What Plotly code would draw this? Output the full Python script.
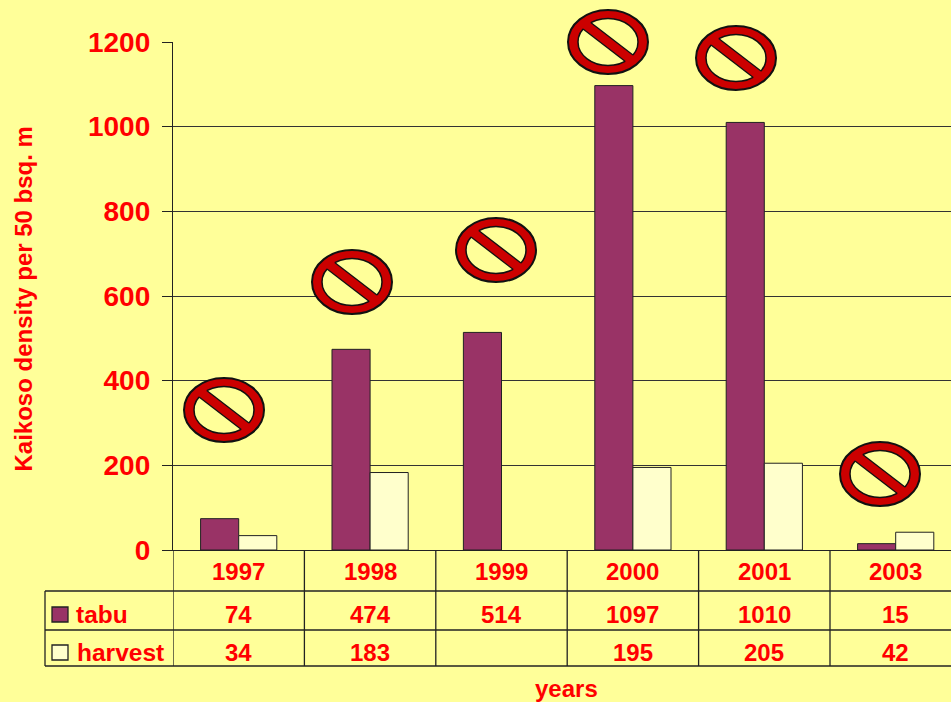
import math
import plotly.graph_objects as go

W, H = 951, 702
BG = "#FFFF99"
RED = "#FF0000"
FONT = "Liberation Sans, Arial, sans-serif"

years = ["1997", "1998", "1999", "2000", "2001", "2003"]
tabu = [74, 474, 514, 1097, 1010, 15]
harvest = [34, 183, None, 195, 205, 42]
y_ticks = [0, 200, 400, 600, 800, 1000, 1200]
series_names = ["tabu", "harvest"]
series_colors = ["#993366", "#FFFFCC"]
sign_centers_px = [(224, 410), (352, 282), (496, 250), (608, 42), (736, 58), (880, 474)]

positions = list(range(len(years)))


def px(x):
    return x / W


def py(y):
    return 1 - y / H


def paper_line(x0, y0, x1, y1, color="#222222", width=1.3):
    return dict(type="line", xref="paper", yref="paper", x0=px(x0), y0=py(y0), x1=px(x1), y1=py(y1),
                line=dict(color=color, width=width))


def ellipse(cx, cy, rx, ry, fill, width):
    return dict(type="circle", xref="paper", yref="paper", x0=px(cx - rx), x1=px(cx + rx),
                y0=py(cy + ry), y1=py(cy - ry), fillcolor=fill, line=dict(color="#111111", width=width))


def chord(ox, oy, d, a, b):
    """Both crossings of the line (ox,oy)+t*d with the ellipse of radii a, b."""
    A = (d[0] / a) ** 2 + (d[1] / b) ** 2
    B = 2 * (ox * d[0] / a ** 2 + oy * d[1] / b ** 2)
    C = (ox / a) ** 2 + (oy / b) ** 2 - 1
    r = math.sqrt(B * B - 4 * A * C)
    return (-B - r) / (2 * A), (-B + r) / (2 * A)


def sign(cx, cy):
    ia, ib = 30, 23.5
    out = [ellipse(cx, cy, 40, 32, "#CC0000", 2), ellipse(cx, cy, ia, ib, BG, 1.5)]
    d = (22, 17)
    nx, ny = 3.1, -3.8  # half thickness of the slash
    pts = [(nx - 1.15 * d[0], ny - 1.15 * d[1]), (nx + 1.15 * d[0], ny + 1.15 * d[1]),
           (-nx + 1.15 * d[0], -ny + 1.15 * d[1]), (-nx - 1.15 * d[0], -ny - 1.15 * d[1])]
    path = "M " + " L ".join(f"{px(cx + p[0])} {py(cy + p[1])}" for p in pts) + " Z"
    out.append(dict(type="path", xref="paper", yref="paper", path=path, fillcolor="#CC0000", line=dict(width=0)))
    for sgn in (1, -1):
        ox, oy = sgn * nx, sgn * ny
        t0, t1 = chord(ox, oy, d, ia, ib)
        out.append(paper_line(cx + ox + t0 * d[0], cy + oy + t0 * d[1], cx + ox + t1 * d[0], cy + oy + t1 * d[1],
                              color="#111111", width=1.3))
    return out


fig = go.Figure()
for name, vals, col in zip(series_names, [tabu, harvest], series_colors):
    fig.add_bar(x=positions, y=vals, name=name, marker=dict(color=col, line=dict(color="#222222", width=1)))

shapes = []
for y in (591, 630, 666):
    shapes.append(paper_line(45, y, W, y))
shapes.append(paper_line(45, 591, 45, 666))
for i in positions:
    shapes.append(dict(type="line", xref="x", yref="paper", x0=i - 0.5, x1=i - 0.5, y0=py(550), y1=py(666),
                       line=dict(color="#222222", width=1.3)))
for col, (t, b) in zip(series_colors, [(607, 622), (645, 660)]):
    shapes.append(dict(type="rect", xref="paper", yref="paper", x0=px(52), x1=px(68), y0=py(b), y1=py(t),
                       fillcolor=col, line=dict(color="#222222", width=1.3)))
for c in sign_centers_px:
    shapes.extend(sign(*c))

annos = []


def label(text, x, y, size=24, xref="paper", xanchor="center", angle=0):
    annos.append(dict(text=f"<b>{text}</b>", x=x, y=py(y), xref=xref, yref="paper", xanchor=xanchor,
                      yanchor="middle", showarrow=False, textangle=angle,
                      font=dict(family=FONT, size=size, color=RED)))


for i, yr in enumerate(years):
    label(yr, i, 571, xref="x")
    label(tabu[i], i, 614, xref="x")
    if harvest[i] is not None:
        label(harvest[i], i, 652, xref="x")
label(series_names[0], px(73.5), 614, size=24.5, xanchor="left")
label(series_names[1], px(74.5), 652, size=24.5, xanchor="left")
label("years", px(566), 688)
label("Kaikoso density per 50 bsq. m", px(22.5), 299, size=24, angle=-90)

fig.update_layout(
    width=W, height=H, autosize=False,
    margin=dict(l=0, r=0, t=0, b=0),
    paper_bgcolor=BG, plot_bgcolor=BG,
    showlegend=False, barmode="group", bargap=0.42, bargroupgap=0,
    shapes=shapes, annotations=annos,
    font=dict(family=FONT, color=RED),
    xaxis=dict(domain=[173 / W, 1], range=[-0.5, -0.5 + 778 / 131.4], showgrid=False, showticklabels=False,
               ticks="", zeroline=False, showline=True, linecolor="#222222", linewidth=1.3, automargin=False),
    yaxis=dict(domain=[1 - 550 / H, 1 - 42 / H], range=[0, 1200], tickvals=y_ticks, showgrid=True,
               gridcolor="#333333", gridwidth=1, zeroline=False, showline=True, linecolor="#222222",
               linewidth=1.3, ticks="outside", ticklen=10, tickcolor="#222222", tickwidth=1.3,
               ticklabelstandoff=6, automargin=False,
               tickfont=dict(family=FONT, size=28, color=RED, weight="bold")),
)
fig.write_html("out.html", config=dict(displayModeBar=False),
               post_script="document.body.style.margin='0';document.body.style.overflow='hidden';"
                           "document.body.style.background='#FFFF99';")
